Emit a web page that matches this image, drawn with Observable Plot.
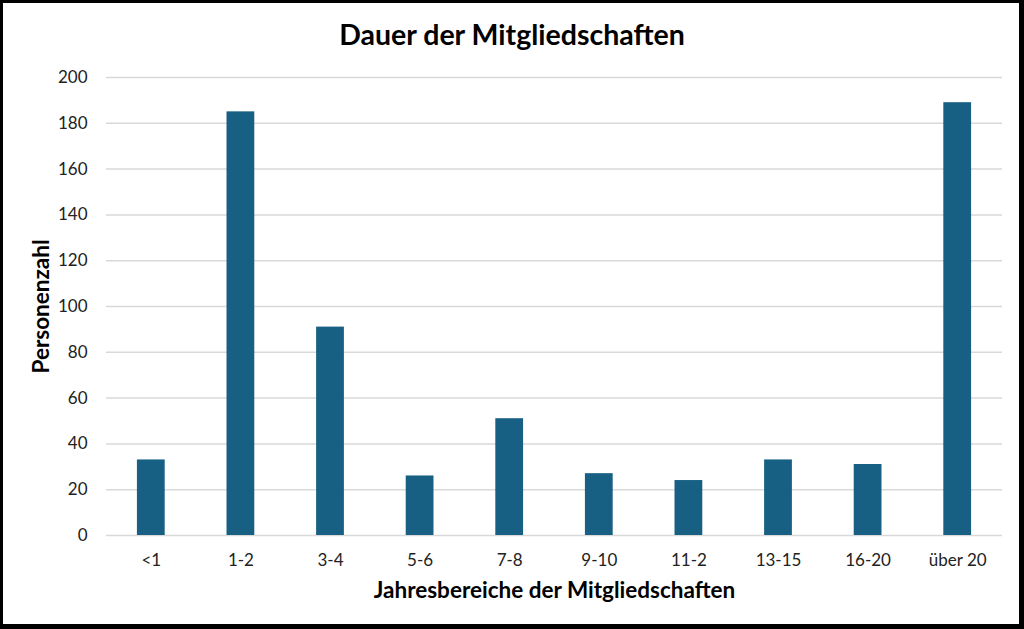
<!DOCTYPE html>
<html>
<head>
<meta charset="utf-8">
<script src="https://cdn.jsdelivr.net/npm/d3@7"></script>
<script src="https://cdn.jsdelivr.net/npm/@observablehq/plot@0.6"></script>
<style>
  html, body { margin: 0; padding: 0; background: #fff; }
  #wrap { position: relative; width: 1024px; height: 629px; overflow: hidden; font-family: Lato, "Open Sans", sans-serif; }
  #title { position: absolute; left: 0; top: 16px; width: 1024px; text-align: center; font-size: 28.5px; font-weight: bold; color: #000; line-height: 36px; }
  #plot { position: absolute; left: 0; top: 62px; }
  #frame { position: absolute; left: 0; top: 0; width: 1024px; height: 629px; box-sizing: border-box;
           border-left: 3px solid #000; border-top: 3px solid #000; border-right: 5px solid #000; border-bottom: 5px solid #000; pointer-events: none; }
</style>
</head>
<body>
<div id="wrap">
  <div id="title">Dauer der Mitgliedschaften</div>
  <div id="plot"></div>
  <div id="frame"></div>
</div>
<script>
const categories = ["<1", "1-2", "3-4", "5-6", "7-8", "9-10", "11-2", "13-15", "16-20", "über 20"];
const values = [33, 185, 91, 26, 51, 27, 24, 33, 31, 189];
const yTicks = [0, 20, 40, 60, 80, 100, 120, 140, 160, 180, 200];
const xTitle = "Jahresbereiche der Mitgliedschaften";
const yTitle = "Personenzahl";

const data = categories.map((c, i) => ({ cat: c, val: values[i] }));

const chart = Plot.plot({
  width: 1024,
  height: 567,
  marginTop: 15,
  marginBottom: 94,
  marginLeft: 106,
  marginRight: 22,
  style: { fontFamily: "Lato, 'Open Sans', sans-serif", fontSize: "17px", color: "#222", background: "transparent" },
  x: { domain: categories, paddingInner: 0.69, paddingOuter: 0.345, round: false, label: null },
  y: { domain: [0, 200], label: null },
  marks: [
    Plot.gridY(yTicks, { stroke: "#d9d9d9", strokeOpacity: 1, strokeWidth: 1.5 }),
    Plot.barY(data, { x: "cat", y: "val", fill: "#176083" }),
    Plot.axisY(yTicks, { tickSize: 0, tickPadding: 19, label: null, fontSize: 17 }),
    Plot.axisX({ tickSize: 0, tickPadding: 18, label: null, fontSize: 17 }),
    Plot.text([xTitle], { frameAnchor: "bottom", dy: 55, lineAnchor: "middle", text: d => d, fontSize: 22.5, fontWeight: "bold", fill: "#000" }),
    Plot.text([yTitle], { frameAnchor: "left", dx: -65, rotate: -90, textAnchor: "middle", lineAnchor: "middle", text: d => d, fontSize: 22.5, fontWeight: "bold", fill: "#000" })
  ]
});
document.getElementById("plot").appendChild(chart);
</script>
</body>
</html>
